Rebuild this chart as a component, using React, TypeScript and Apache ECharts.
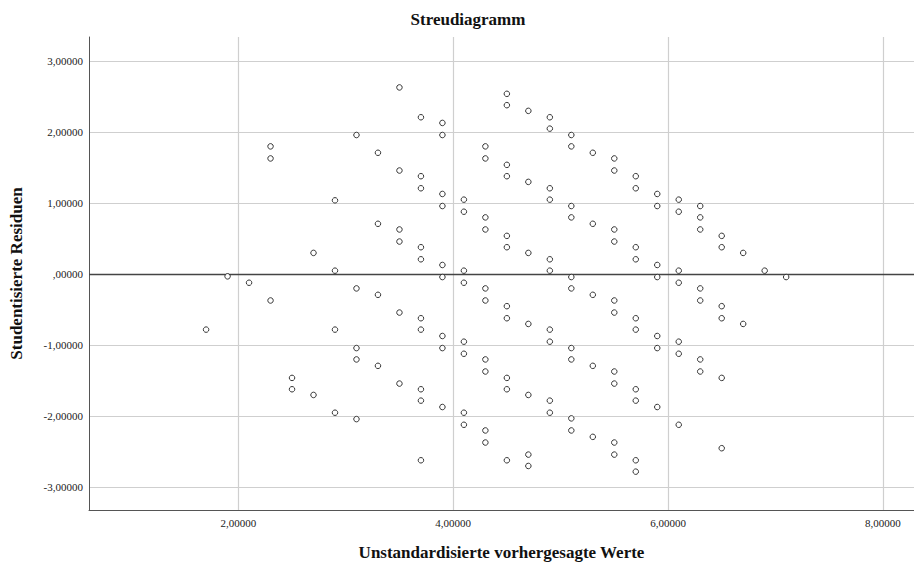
import React, { useEffect, useRef } from "react";
import * as echarts from "echarts";

// Predicted values (x columns) and studentized residuals per column
const predictedValues = [
  1.7, 1.9, 2.1, 2.3, 2.5, 2.7, 2.9, 3.1, 3.3, 3.5, 3.7, 3.9, 4.1, 4.3,
  4.5, 4.7, 4.9, 5.1, 5.3, 5.5, 5.7, 5.9, 6.1, 6.3, 6.5, 6.7, 6.9, 7.1,
];

const residualsByColumn: number[][] = [
  [-0.78],
  [-0.03],
  [-0.12],
  [1.8, 1.63, -0.37],
  [-1.46, -1.62],
  [0.3, -1.7],
  [1.04, 0.05, -0.78, -1.95],
  [1.96, -0.2, -1.04, -1.2, -2.04],
  [1.71, 0.71, -0.29, -1.29],
  [2.63, 1.46, 0.63, 0.46, -0.54, -1.54],
  [2.21, 1.38, 1.21, 0.38, 0.21, -0.62, -0.78, -1.62, -1.78, -2.62],
  [2.13, 1.96, 1.13, 0.96, 0.13, -0.04, -0.87, -1.04, -1.87],
  [1.05, 0.88, 0.05, -0.12, -0.95, -1.12, -1.95, -2.12],
  [1.8, 1.63, 0.8, 0.63, -0.2, -0.37, -1.2, -1.37, -2.2, -2.37],
  [2.54, 2.38, 1.54, 1.38, 0.54, 0.38, -0.45, -0.62, -1.46, -1.62, -2.62],
  [2.3, 1.3, 0.3, -0.7, -1.7, -2.54, -2.7],
  [2.21, 2.05, 1.21, 1.05, 0.21, 0.05, -0.78, -0.95, -1.78, -1.95],
  [1.96, 1.8, 0.96, 0.8, -0.04, -0.2, -1.04, -1.2, -2.03, -2.2],
  [1.71, 0.71, -0.29, -1.29, -2.29],
  [1.63, 1.46, 0.63, 0.46, -0.37, -0.54, -1.37, -1.54, -2.37, -2.54],
  [1.38, 1.21, 0.38, 0.21, -0.62, -0.78, -1.62, -1.78, -2.62, -2.78],
  [1.13, 0.96, 0.13, -0.04, -0.87, -1.04, -1.87],
  [1.05, 0.88, 0.05, -0.12, -0.95, -1.12, -2.12],
  [0.96, 0.8, 0.63, -0.2, -0.37, -1.2, -1.37],
  [0.54, 0.38, -0.45, -0.62, -1.46, -2.45],
  [0.3, -0.7],
  [0.05],
  [-0.04],
];

const xAxisRange = [0.61, 8.29];
const yAxisRange = [-3.32, 3.34];

const titleText = "Streudiagramm";
const xAxisTitle = "Unstandardisierte vorhergesagte Werte";
const yAxisTitle = "Studentisierte Residuen";

const FONT = "'Liberation Serif', 'Times New Roman', serif";

function fmt(v: number, step: number): string {
  const r = Math.round(v / step) * step;
  if (Math.abs(v - r) > 1e-6) return "";
  let s = r.toFixed(5).replace(".", ",");
  if (s.startsWith("0,")) s = s.slice(1);
  if (s.startsWith("-0,")) s = "-" + s.slice(2);
  return s;
}

export default function App() {
  const ref = useRef<HTMLDivElement>(null);

  useEffect(() => {
    if (!ref.current) return;
    const chart = echarts.init(ref.current, undefined, { renderer: "svg" });

    const points: number[][] = [];
    predictedValues.forEach((x, i) => {
      residualsByColumn[i].forEach((y) => points.push([x, y]));
    });

    chart.setOption({
      animation: false,
      backgroundColor: "#ffffff",
      title: {
        text: titleText,
        left: 463,
        top: 6,
        textAlign: "center",
        textStyle: {
          fontFamily: FONT,
          fontWeight: "bold",
          fontSize: 17,
          color: "#111",
        },
      },
      grid: { left: 89, right: 0, top: 37, bottom: 57, containLabel: false },
      xAxis: {
        type: "value",
        min: xAxisRange[0],
        max: xAxisRange[1],
        minInterval: 2,
        maxInterval: 2,
        name: xAxisTitle,
        nameLocation: "middle",
        nameGap: 34,
        nameTextStyle: {
          fontFamily: FONT,
          fontWeight: "bold",
          fontSize: 17,
          color: "#111",
        },
        axisLine: { show: true, onZero: false, lineStyle: { color: "#555", width: 1 } },
        axisTick: { show: false },
        axisLabel: {
          fontFamily: FONT,
          fontSize: 11,
          color: "#222",
          margin: 7,
          showMinLabel: false,
          showMaxLabel: false,
          formatter: (v: number) => fmt(v, 2),
        },
        splitLine: {
          show: true,
          showMinLine: false,
          showMaxLine: false,
          lineStyle: { color: "#cfcfcf", width: 1.2 },
        },
      },
      yAxis: {
        type: "value",
        min: yAxisRange[0],
        max: yAxisRange[1],
        minInterval: 1,
        maxInterval: 1,
        name: yAxisTitle,
        nameLocation: "middle",
        nameGap: 64,
        nameTextStyle: {
          fontFamily: FONT,
          fontWeight: "bold",
          fontSize: 17,
          color: "#111",
        },
        axisLine: { show: true, onZero: false, lineStyle: { color: "#555", width: 1 } },
        axisTick: { show: false },
        axisLabel: {
          fontFamily: FONT,
          fontSize: 11,
          color: "#222",
          margin: 6,
          showMinLabel: false,
          showMaxLabel: false,
          formatter: (v: number) => fmt(v, 1),
        },
        splitLine: {
          show: true,
          showMinLine: false,
          showMaxLine: false,
          lineStyle: { color: "#cfcfcf", width: 1.2 },
        },
      },
      series: [
        {
          type: "scatter",
          data: points,
          symbol: "circle",
          symbolSize: 5.5,
          itemStyle: {
            color: "#ffffff",
            borderColor: "#333",
            borderWidth: 1,
            opacity: 1,
          },
          markLine: {
            silent: true,
            symbol: "none",
            label: { show: false },
            lineStyle: { color: "#444", width: 1.3, type: "solid" },
            data: [{ yAxis: 0 }],
          },
          z: 5,
        },
      ],
    });

    return () => chart.dispose();
  }, []);

  return (
    <div
      ref={ref}
      style={{ position: "fixed", left: 0, top: 0, width: 914, height: 567 }}
    />
  );
}
